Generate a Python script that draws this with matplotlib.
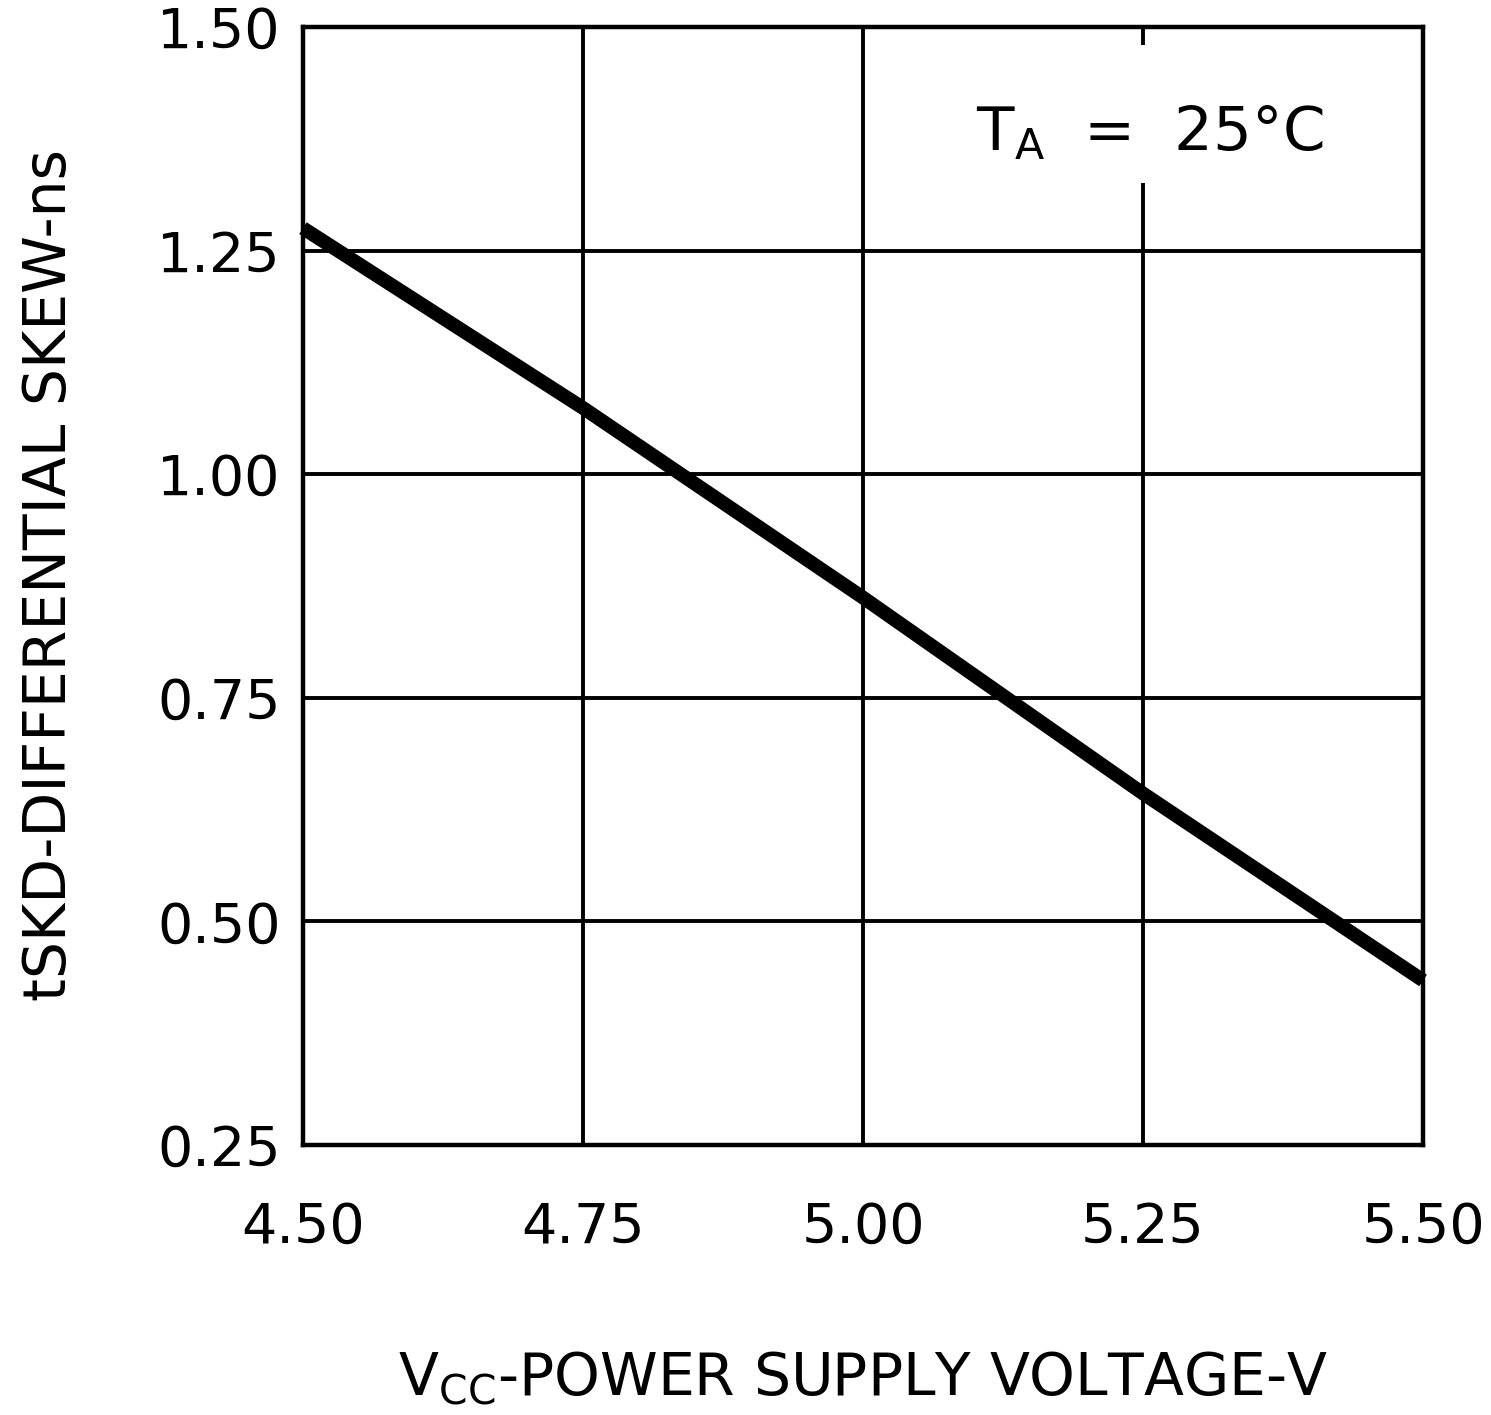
import matplotlib
matplotlib.use('Agg')
import matplotlib.pyplot as plt
from matplotlib.patches import Rectangle

# data
vcc = [4.50, 4.75, 5.00, 5.25, 5.50]
skew = [1.275, 1.074, 0.862, 0.643, 0.434]
xticks = [4.50, 4.75, 5.00, 5.25, 5.50]
yticks = [0.25, 0.50, 0.75, 1.00, 1.25, 1.50]

plt.rcParams['font.family'] = ['DejaVu Sans']
plt.rcParams['mathtext.fontset'] = 'custom'
plt.rcParams['mathtext.rm'] = 'DejaVu Sans'

fig = plt.figure(figsize=(14.91, 14.15), dpi=100)
ax = fig.add_axes([0.2032, 0.1908, 0.7512, 0.7902])

ax.plot(vcc, skew, color='black', linewidth=10, solid_capstyle='butt', zorder=3, clip_on=False)

ax.set_xlim(4.50, 5.50)
ax.set_ylim(0.25, 1.50)
ax.set_xticks(xticks)
ax.set_yticks(yticks)
ax.set_xticklabels(['%.2f' % v for v in xticks])
ax.set_yticklabels(['%.2f' % v for v in yticks])
ax.tick_params(length=0, labelsize=40)
ax.tick_params(axis='y', pad=16)
ax.tick_params(axis='x', pad=40)
ax.grid(True, color='black', linewidth=2.8)
for s in ax.spines.values():
    s.set_linewidth(3.2)

# white label box that breaks the 5.25 grid line
ax.add_patch(Rectangle((0.587, 0.8605), 0.33, 0.1235, transform=ax.transAxes,
                       facecolor='white', edgecolor='none', zorder=4))
ax.text(0.756, 0.905, r'T$_{\mathregular{A}}$  =  25°C', transform=ax.transAxes,
        fontsize=44, ha='center', va='center', zorder=5)

ax.set_xlabel(r'V$_{\mathregular{CC}}$-POWER SUPPLY VOLTAGE-V', fontsize=42, labelpad=68)
ax.set_ylabel('tSKD-DIFFERENTIAL SKEW-ns', fontsize=42)
ax.yaxis.set_label_coords(-0.201, 0.51)

fig.savefig('out.png', dpi=100, facecolor='white')
